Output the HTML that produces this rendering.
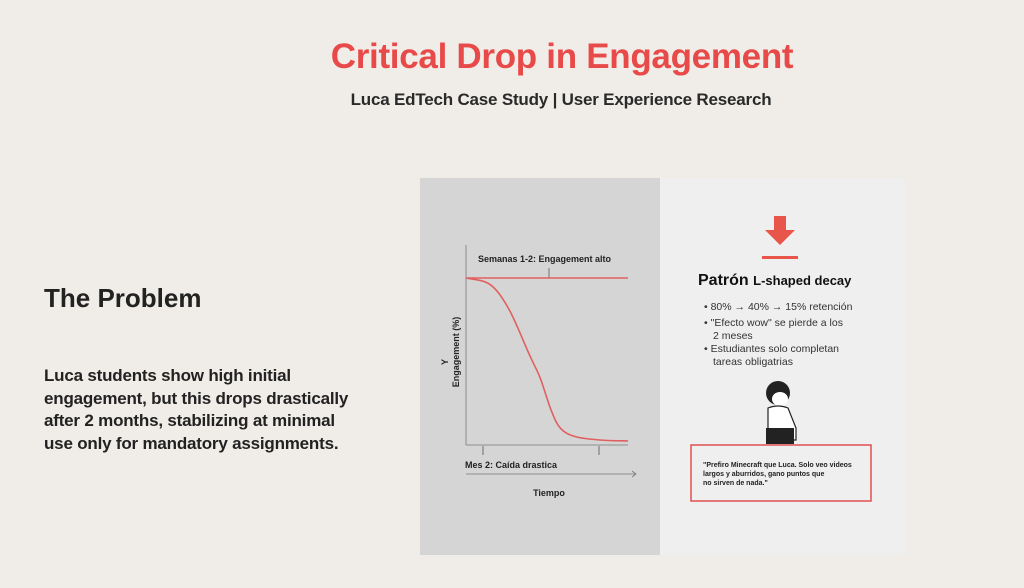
<!DOCTYPE html>
<html><head><meta charset="utf-8">
<style>
body{margin:0;width:1024px;height:588px;background:#f0ede8;font-family:"Liberation Sans",sans-serif;position:relative;overflow:hidden;color:#222}
.abs{position:absolute;white-space:nowrap}
</style></head><body>
<div class="abs" style="left:0;width:1124px;text-align:center;top:37px;font-size:35px;font-weight:bold;color:#e84a4a;letter-spacing:-0.3px">Critical Drop in Engagement</div>
<div class="abs" style="left:0;width:1122px;text-align:center;top:90px;font-size:17px;font-weight:bold;color:#2a2a2a;letter-spacing:-0.2px">Luca EdTech Case Study | User Experience Research</div>
<div class="abs" style="left:44px;top:283px;font-size:26px;font-weight:bold">The Problem</div>
<div class="abs" style="left:44px;top:365px;font-size:17px;font-weight:bold;line-height:22.6px;white-space:normal;width:318px;letter-spacing:-0.2px">Luca students show high initial engagement, but this drops drastically after 2 months, stabilizing at minimal use only for mandatory assignments.</div>

<svg class="abs" style="left:420px;top:178px" width="485" height="377" viewBox="420 178 485 377">
<rect x="420" y="178" width="240" height="377" fill="#d5d5d5"/>
<rect x="660" y="178" width="245" height="377" fill="#efefef"/>
<g id="chart"></g>
<g font-family="Liberation Sans,sans-serif">
<path d="M774 216h12v14h9l-15 15l-15-15h9z" fill="#e8554a"/>
<rect x="762" y="256" width="36" height="3" fill="#e8554a"/>
<text x="698" y="285" font-size="16" font-weight="bold" fill="#111">Patrón <tspan font-size="13">L-shaped decay</tspan></text>
<g font-size="10.5" fill="#333">
<text x="704" y="310">• 80% → 40% → 15% retención</text>
<text x="704" y="326">• "Efecto wow" se pierde a los</text>
<text x="713" y="339">2 meses</text>
<text x="704" y="352">• Estudiantes solo completan</text>
<text x="713" y="365">tareas obligatrias</text>
</g>
<g>
<ellipse cx="778" cy="393" rx="12" ry="12" fill="#222"/>
<ellipse cx="780" cy="399" rx="8" ry="7" fill="#fff"/>
<path d="M768 408q10-4 20 0l8 20v12h-28z" fill="#fff" stroke="#222" stroke-width="1.2"/>
<path d="M766 428h28v16h-28z" fill="#222"/>
</g>
<rect x="691" y="445" width="180" height="56" fill="none" stroke="#e05050" stroke-width="1.5"/>
<g font-size="7" font-weight="bold" fill="#222">
<text x="703" y="467">"Prefiro Minecraft que Luca. Solo veo videos</text>
<text x="703" y="476">largos y aburridos, gano puntos que</text>
<text x="703" y="485">no sirven de nada."</text>
</g>
</g>
</svg>
<script>
const timePoints=[0,1.8,3.2,4.7,5.5,6.3,7.0,8.1,9.9,12];
const engagementValues=[100,96,81,54,40,21,10,5,3,2.4];
const highLevel=[100];
const xScale=t=>466+t/12*162;
const yScale=v=>445-v/100*167;
const ns="http://www.w3.org/2000/svg";
const g=document.getElementById('chart');
function mk(tag,attrs,name){const e=document.createElementNS(ns,tag);for(const k in attrs)e.setAttribute(k,attrs[k]);


g.appendChild(e);return e;}
mk('line',{x1:466,y1:245,x2:466,y2:445,stroke:'#777','stroke-width':0.8},'y-axis');
mk('line',{x1:466,y1:445,x2:628,y2:445,stroke:'#777','stroke-width':0.8},'x-axis');
mk('line',{x1:466,y1:474,x2:636,y2:474,stroke:'#777','stroke-width':0.8},'time-arrow');
mk('path',{d:'M632 471l4 3l-4 3',fill:'none',stroke:'#777','stroke-width':0.8},'time-arrowhead');
mk('line',{x1:483,y1:446,x2:483,y2:455,stroke:'#555','stroke-width':0.8},'x-tick-1');
mk('line',{x1:599,y1:446,x2:599,y2:455,stroke:'#555','stroke-width':0.8},'x-tick-2');
mk('line',{x1:549,y1:268,x2:549,y2:278,stroke:'#555','stroke-width':0.8},'annotation-tick');
mk('line',{x1:xScale(0),y1:yScale(highLevel[0]),x2:xScale(12),y2:yScale(highLevel[0]),stroke:'#e06060','stroke-width':1.6},'high-engagement-line');
const pts=timePoints.map((t,i)=>[xScale(t),yScale(engagementValues[i])]);
let d='M'+pts[0][0]+' '+pts[0][1];
for(let i=0;i<pts.length-1;i++){const p0=pts[Math.max(0,i-1)],p1=pts[i],p2=pts[i+1],p3=pts[Math.min(pts.length-1,i+2)];
d+=` C${p1[0]+(p2[0]-p0[0])/6} ${p1[1]+(p2[1]-p0[1])/6},${p2[0]-(p3[0]-p1[0])/6} ${p2[1]-(p3[1]-p1[1])/6},${p2[0]} ${p2[1]}`;}
mk('path',{d:d,fill:'none',stroke:'#e06060','stroke-width':1.6},'engagement-decay-curve');
const t1=mk('text',{x:478,y:262,'font-size':9,'font-weight':'bold',fill:'#222','font-family':'Liberation Sans,sans-serif'},'high-engagement-label');t1.textContent='Semanas 1-2: Engagement alto';
const t2=mk('text',{x:465,y:468,'font-size':9,'font-weight':'bold',fill:'#222','font-family':'Liberation Sans,sans-serif'},'drop-label');t2.textContent='Mes 2: Caída drastica';
const t3=mk('text',{x:549,y:496,'font-size':9,'font-weight':'bold',fill:'#222','text-anchor':'middle','font-family':'Liberation Sans,sans-serif'},'x-axis-title');t3.textContent='Tiempo';
const t4=mk('text',{x:0,y:0,'font-size':9,'font-weight':'bold',fill:'#222','text-anchor':'middle','font-family':'Liberation Sans,sans-serif',transform:'translate(459,352) rotate(-90)'},'y-axis-title');t4.textContent='Engagement (%)';
const t5=mk('text',{x:0,y:0,'font-size':9,'font-weight':'bold',fill:'#222','text-anchor':'middle','font-family':'Liberation Sans,sans-serif',transform:'translate(448,362) rotate(-90)'},'y-axis-letter');t5.textContent='Y';
</script>
</body></html>
